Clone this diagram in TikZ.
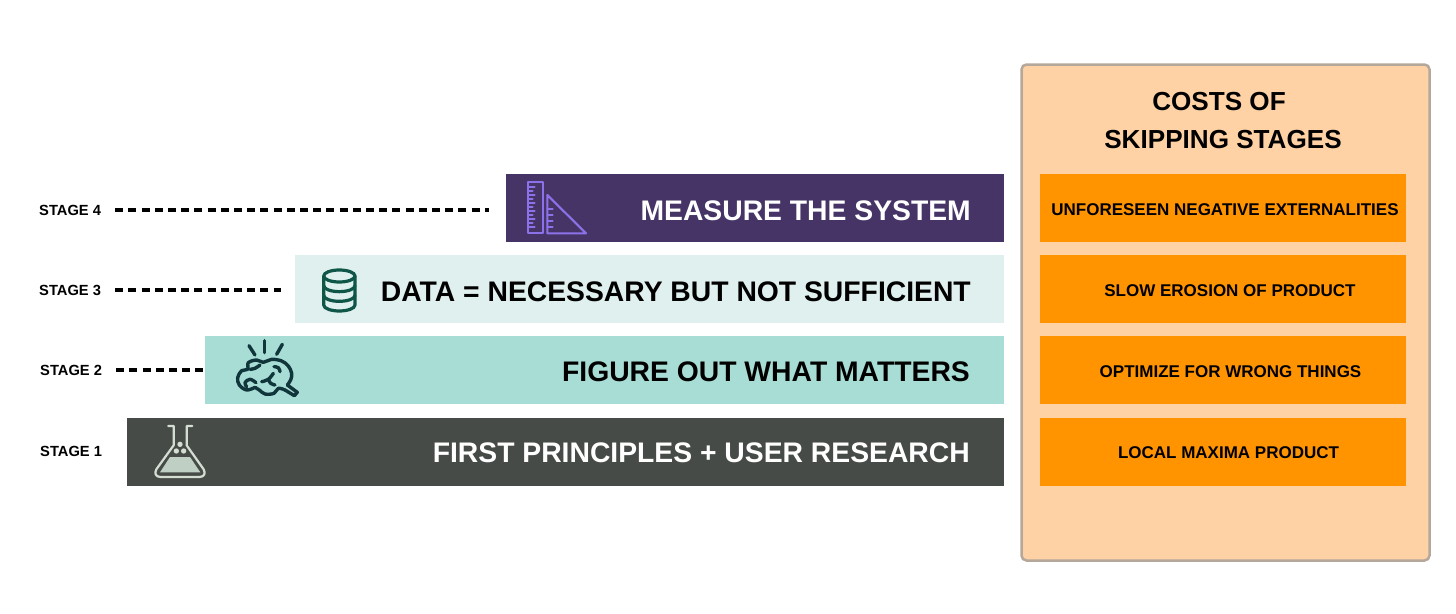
\documentclass[tikz,border=0pt]{standalone}
\usepackage{fontspec}
\setmainfont{Liberation Sans}
\definecolor{cpurple}{HTML}{453465}
\definecolor{cpale}{HTML}{DFF0EE}
\definecolor{cteal}{HTML}{A8DDD5}
\definecolor{cgrey}{HTML}{474B47}
\definecolor{cpanel}{HTML}{FFD2A6}
\definecolor{cpaneledge}{HTML}{B5A89A}
\definecolor{corange}{HTML}{FF9300}
\definecolor{cruler}{HTML}{8C72EA}
\definecolor{cdb}{HTML}{0F5548}
\definecolor{cbrain}{HTML}{10363C}
\definecolor{cflask}{HTML}{D3DDD3}
\definecolor{cliquid}{HTML}{BFCFC3}
\tikzset{
  barbox/.style={inner sep=0pt,anchor=north west},
  barlabel/.style={inner sep=0pt,anchor=east,font=\fontsize{28.3}{32}\selectfont\bfseries},
  stagelabel/.style={inner sep=0pt,anchor=west,font=\fontsize{14.7}{17}\selectfont\bfseries},
  costbox/.style={fill=corange,inner sep=0pt,anchor=north west,minimum width=366pt,minimum height=68pt},
  costlabel/.style={inner sep=0pt,font=\fontsize{17}{20}\selectfont\bfseries,text=black},
  titlelabel/.style={inner sep=0pt,font=\fontsize{26.1}{30}\selectfont\bfseries},
  stagedash/.style={line width=4.5pt,dash pattern=on 8pt off 5.2pt},
  icon/.style={line cap=round,line join=round}
}
\begin{document}
\begin{tikzpicture}[x=1pt,y=-1pt]
\useasboundingbox (0,0) rectangle (1456,613);
\fill[white] (0,0) rectangle (1456,613);
% panel
\node[draw=cpaneledge,line width=2.5pt,fill=cpanel,rounded corners=5pt,inner sep=0pt,outer sep=0pt,anchor=north west,minimum width=408pt,minimum height=496pt] (panel) at (1021.5,64.5) {};
\node[titlelabel] (t1) at (1219,102) {COSTS OF};
\node[titlelabel] (t2) at (1223,140) {SKIPPING STAGES};
\node[costbox] (c4) at (1040,174) {};
\node[costbox] (c3) at (1040,255) {};
\node[costbox] (c2) at (1040,336) {};
\node[costbox] (c1) at (1040,418) {};
\node[costlabel] (cl4) at (1225,210) {UNFORESEEN NEGATIVE EXTERNALITIES};
\node[costlabel] (cl3) at (1230,291) {SLOW EROSION OF PRODUCT};
\node[costlabel] (cl2) at (1230.5,372) {OPTIMIZE FOR WRONG THINGS};
\node[costlabel] (cl1) at (1228.5,453) {LOCAL MAXIMA PRODUCT};
% bars
\node[barbox,fill=cpurple,minimum width=497.5pt,minimum height=68pt] (bar4) at (506,174) {};
\node[barbox,fill=cpale,minimum width=708.5pt,minimum height=68pt] (bar3) at (295,255) {};
\node[barbox,fill=cteal,minimum width=798.5pt,minimum height=68pt] (bar2) at (205,336) {};
\node[barbox,fill=cgrey,minimum width=876.5pt,minimum height=68pt] (bar1) at (127,418) {};
\node[barlabel,text=white] (l4) at (971,211) {MEASURE THE SYSTEM};
\node[barlabel,text=black] (l3) at (971,292) {DATA = NECESSARY BUT NOT SUFFICIENT};
\node[barlabel,text=black] (l2) at (970,372) {FIGURE OUT WHAT MATTERS};
\node[barlabel,text=white] (l1) at (970,453) {FIRST PRINCIPLES + USER RESEARCH};
% stage labels
\node[stagelabel] (s4) at (39,210) {STAGE 4};
\node[stagelabel] (s3) at (39,290) {STAGE 3};
\node[stagelabel] (s2) at (40,370) {STAGE 2};
\node[stagelabel] (s1) at (40,451) {STAGE 1};
\draw[stagedash,shorten <=14pt,shorten >=17pt] (s4.east) -- (s4.east -| bar4.west);
\draw[stagedash,shorten <=14pt,shorten >=14pt] (s3.east) -- (s3.east -| bar3.west);
\draw[stagedash,shorten <=14pt,shorten >=2pt] (s2.east) -- (s2.east -| bar2.west);
% ruler icon
\begin{scope}[icon,draw=cruler,line width=2.1pt]
\draw (528.3,182.3) rectangle (543.3,233.3);
\foreach \y/\l in {187/6.5,191/4.5,195/6.5,199/4.5,203/6.5,207/4.5,211/6.5,215/4.5,219/6.5,223/4.5,227/6.5}
  \draw[line width=1.6pt] (528.3,\y) -- ++(\l,0);
\draw (547.3,195) -- (586,233.3) -- (547.3,233.3) -- cycle;
\foreach \y in {209,215,221,227}
  \draw[line width=1.6pt] (547.3,\y) -- ++(5.5,0);
\end{scope}
% database icon
\begin{scope}[shift={(290,250)},x=0.3333pt,y=-0.3333pt,icon,draw=cdb,line width=3.2pt]
\draw (148,78) ellipse [x radius=47,y radius=18];
\draw (101,78) -- (101,165) .. controls (101,176) and (125,183) .. (148,183) .. controls (171,183) and (195,176) .. (195,165) -- (195,78);
\draw (101,107) .. controls (101,118) and (125,125) .. (148,125) .. controls (171,125) and (195,118) .. (195,107);
\draw (101,136) .. controls (101,147) and (125,154) .. (148,154) .. controls (171,154) and (195,147) .. (195,136);
\end{scope}
% brain icon
\begin{scope}[shift={(200,330)},x=0.3333pt,y=-0.3333pt,icon,draw=cbrain,line width=3.4pt]
\draw (147,47) -- (165,75);
\draw (193,32) -- (193,68);
\draw (247,43) -- (230,73);
\draw plot[smooth,tension=0.6] coordinates {(165,172) (140,180) (118,165) (113,143) (125,122) (143,118) (145,98) (170,90) (190,97) (215,88) (245,93) (265,108) (275,130) (272,150) (262,165)};
\draw (262,165) -- (292,187) -- (283,197) -- (255,180);
\draw plot[smooth,tension=0.6] coordinates {(255,180) (235,175) (222,190) (195,192) (178,180) (165,172)};
\draw plot[smooth,tension=0.7] coordinates {(168,158) (150,148) (135,158) (140,170)};
\draw plot[smooth,tension=0.7] coordinates {(185,155) (205,148) (220,130)};
\draw plot[smooth,tension=0.7] coordinates {(205,148) (212,160) (225,165)};
\draw plot[smooth,tension=0.7] coordinates {(150,118) (165,115) (180,105)};
\draw plot[smooth,tension=0.7] coordinates {(222,110) (235,113) (240,125)};
\end{scope}
% flask icon
\begin{scope}[shift={(120,412)},x=0.3333pt,y=-0.3333pt,icon]
\fill[cliquid] (150,135) -- (210,135) -- (241,181) -- (120,181) -- cycle;
\draw[cflask,line width=2.2pt] (145,42) -- (161,42) -- (161,100) -- (109,172) .. controls (102,185) and (108,195) .. (122,195) -- (238,195) .. controls (252,195) and (258,185) .. (251,172) -- (200,100) -- (200,42) -- (217,42);
\fill[cflask] (180,97) circle [radius=8];
\fill[cflask] (169,117) circle [radius=8];
\fill[cflask] (191,117) circle [radius=8];
\end{scope}
\end{tikzpicture}
\end{document}
